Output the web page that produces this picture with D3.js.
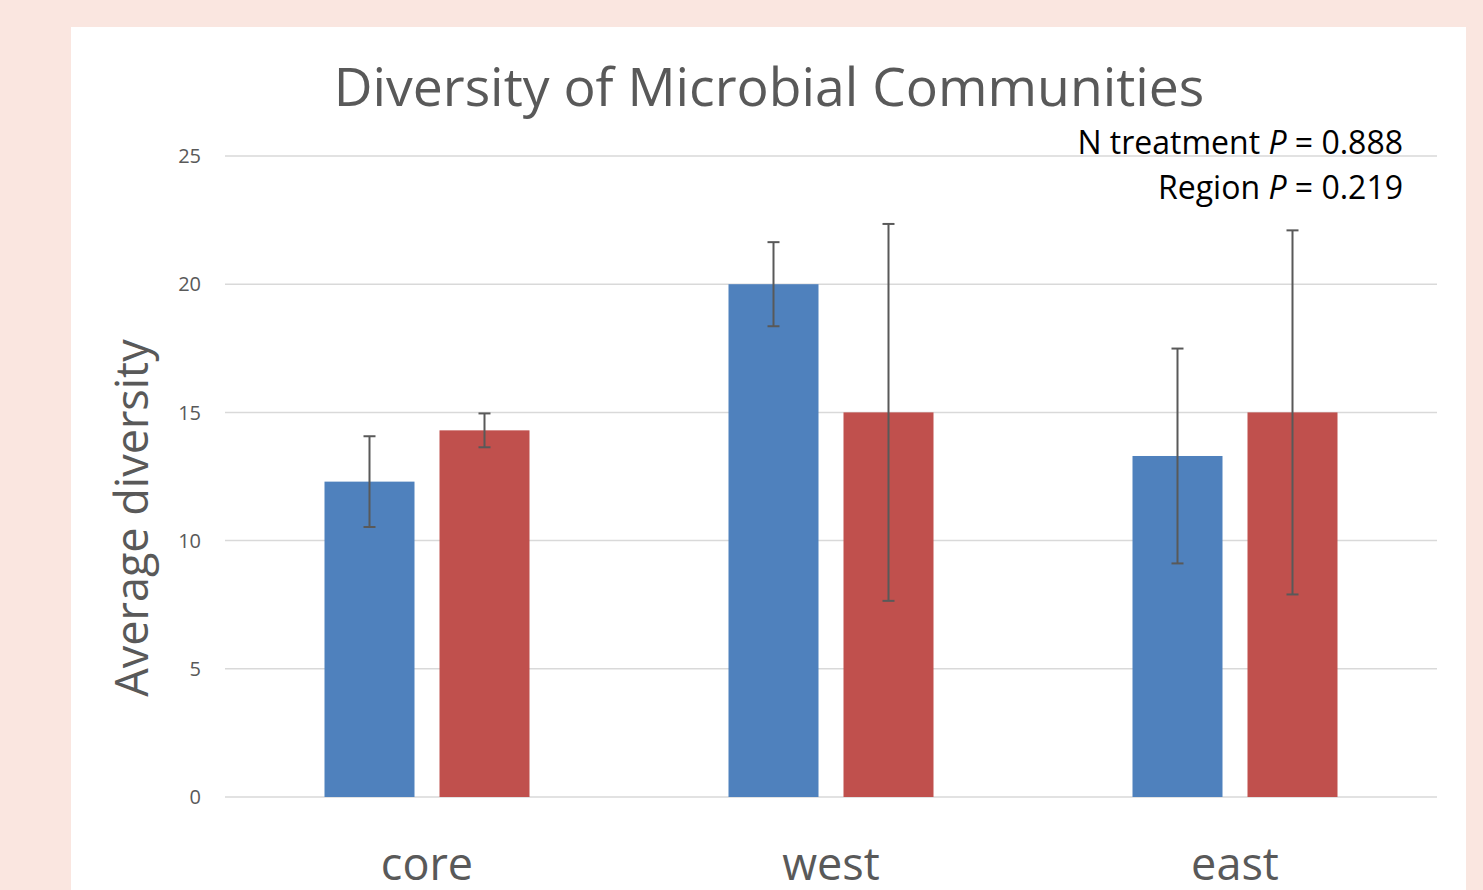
<!DOCTYPE html>
<html>
<head>
<meta charset="utf-8">
<script src="https://cdn.jsdelivr.net/npm/d3@7"></script>
<style>
  body { margin: 0; background: #fae6e0; }
  text { font-family: "Open Sans", sans-serif; }
</style>
</head>
<body>
<div class="container"></div>
<script>
const regions = ['core', 'west', 'east']
const nControl = [12.3, 20.0, 13.3]
const nControlErr = [1.77, 1.64, 4.19]
const nAdded = [14.3, 15.0, 15.0]
const nAddedErr = [0.66, 7.35, 7.1]
const yTicks = [0, 5, 10, 15, 20, 25]
const pLines = ['N treatment', 'Region']
const pValues = ['0.888', '0.219']

const W = 1483, H = 890

const svg = d3.select('.container')
    .append('svg')
    .attr('width', W)
    .attr('height', H)

svg.append('rect')
    .attr('x', 71).attr('y', 27)
    .attr('width', 1395).attr('height', H - 27)
    .attr('fill', '#fff')

const x = d3.scaleBand()
    .domain(regions)
    .range([225, 1437])

const y = d3.scaleLinear()
    .domain([0, 25])
    .range([797, 156])

// gridlines
svg.append('g')
    .selectAll('line')
    .data(yTicks)
    .enter()
    .append('line')
    .attr('x1', 225).attr('x2', 1437)
    .attr('y1', d => y(d)).attr('y2', d => y(d))
    .attr('stroke', '#d9d9d9')
    .attr('stroke-width', 1.5)

// y tick labels
svg.append('g')
    .selectAll('text')
    .data(yTicks)
    .enter()
    .append('text')
    .attr('x', 201)
    .attr('y', d => y(d))
    .attr('dy', '0.36em')
    .attr('text-anchor', 'end')
    .attr('font-size', 20)
    .attr('fill', '#595959')
    .text(d => d)

const barW = 90, gap = 25

let bars = []
regions.forEach((r, i) => {
    let cx = x(r) + x.bandwidth() / 2
    bars.push({ x: cx - gap / 2 - barW, v: nControl[i], e: nControlErr[i], color: '#4f81bd' })
    bars.push({ x: cx + gap / 2, v: nAdded[i], e: nAddedErr[i], color: '#c0504d' })
})

svg.append('g')
    .selectAll('rect')
    .data(bars)
    .enter()
    .append('rect')
    .attr('x', d => d.x)
    .attr('y', d => y(d.v))
    .attr('width', barW)
    .attr('height', d => y(0) - y(d.v))
    .attr('fill', d => d.color)

// error bars
const err = svg.append('g')
    .attr('stroke', '#595959')
    .attr('stroke-width', 2)
    .selectAll('g')
    .data(bars)
    .enter()
    .append('g')

err.append('line')
    .attr('x1', d => d.x + barW / 2).attr('x2', d => d.x + barW / 2)
    .attr('y1', d => y(d.v + d.e)).attr('y2', d => y(d.v - d.e))
err.append('line')
    .attr('x1', d => d.x + barW / 2 - 6).attr('x2', d => d.x + barW / 2 + 6)
    .attr('y1', d => y(d.v + d.e)).attr('y2', d => y(d.v + d.e))
err.append('line')
    .attr('x1', d => d.x + barW / 2 - 6).attr('x2', d => d.x + barW / 2 + 6)
    .attr('y1', d => y(d.v - d.e)).attr('y2', d => y(d.v - d.e))

// category labels
svg.append('g')
    .selectAll('text')
    .data(regions)
    .enter()
    .append('text')
    .attr('x', d => x(d) + x.bandwidth() / 2)
    .attr('y', 880)
    .attr('text-anchor', 'middle')
    .attr('font-size', 45)
    .attr('fill', '#595959')
    .text(d => d)

// title
svg.append('text')
    .attr('x', 769)
    .attr('y', 106)
    .attr('text-anchor', 'middle')
    .attr('font-size', 53.5)
    .attr('fill', '#595959')
    .text('Diversity of Microbial Communities')

// y axis label
svg.append('text')
    .attr('transform', 'translate(148,518) rotate(-90)')
    .attr('text-anchor', 'middle')
    .attr('font-size', 45)
    .attr('fill', '#595959')
    .text('Average diversity')

// P values
const pText = svg.append('g')
    .selectAll('text')
    .data(pLines)
    .enter()
    .append('text')
    .attr('x', 1403)
    .attr('y', (d, i) => 154 + i * 45)
    .attr('text-anchor', 'end')
    .attr('font-size', 32)
    .attr('fill', '#000')

pText.append('tspan').text(d => d + ' ')
pText.append('tspan').attr('font-style', 'italic').text('P')
pText.append('tspan').text((d, i) => ' = ' + pValues[i])
</script>
</body>
</html>
